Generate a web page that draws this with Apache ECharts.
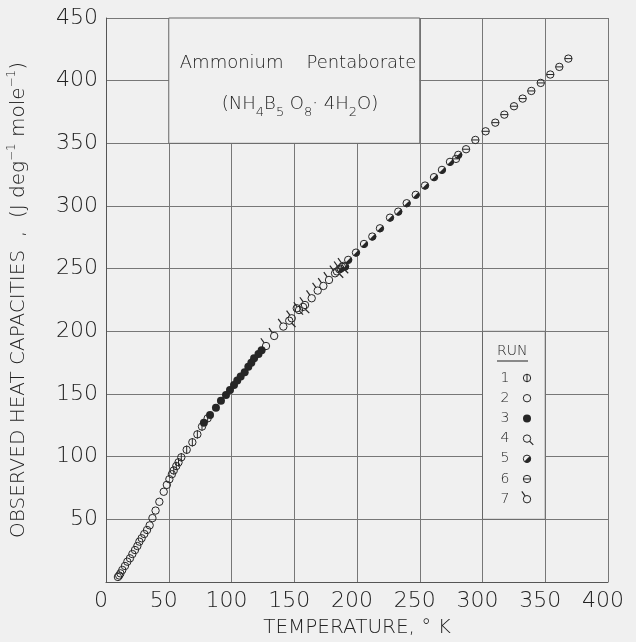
<!DOCTYPE html>
<html>
<head>
<meta charset="utf-8">
<script src="https://cdn.jsdelivr.net/npm/echarts@6/dist/echarts.min.js"></script>
<style>
html, body { margin: 0; padding: 0; background: #f0f0f0; }
#chart { width: 636px; height: 642px; }
</style>
</head>
<body>
<div id="chart"></div>
<script>
// [temperature K, heat capacity J/(deg mole)], one array per run
var run1 = [[54, 89], [56, 92.5], [57.8, 95.5], [60, 99.5], [64.3, 105.5], [68.8, 111.5], [72.8, 117.8], [76.5, 124], [81, 130.6]];
var run2 = [[9.5, 4], [10.5, 5.2], [11.5, 6.9], [13, 9.6], [15.1, 12.8], [17, 16.2], [19.1, 18.9], [21, 22.3],
    [23.1, 25.5], [25, 28.7], [26.6, 32.2], [28.4, 34.9], [30.5, 38.3], [32.7, 41.5], [34.8, 45.2], [37, 51],
    [39.5, 57], [42.5, 64], [46, 72], [48.5, 77.5], [50.5, 82], [52.5, 86]];
var run3 = [[78, 127], [82.9, 133.3], [87.6, 139.1], [91.6, 144.7], [95.6, 149.2], [98.8, 153.2], [102, 157.2],
    [104.6, 160.7], [107.3, 163.9], [110.5, 167.4], [113.4, 171.8], [115.8, 175], [118, 178.5], [121.5, 182], [124, 185]];
var run4 = [[146, 208.5], [152, 218.4], [157, 219.5], [184, 247.8], [188, 251.4]];
var run5 = [[187, 250], [190.5, 251.6], [193, 257], [199.2, 262.8], [205.6, 269.7], [212.2, 275.6], [218.3, 282.2],
    [226.3, 290.7], [232.9, 295.5], [239.6, 302.2], [246.8, 308.9], [254.2, 316.3], [261.4, 323], [267.7, 328.8],
    [274.1, 335.2], [280.7, 340.8]];
var run6 = [[278.9, 337.6], [286.9, 345.3], [294.3, 352.7], [302.5, 359.6], [310.2, 366.5], [317.4, 372.9],
    [325.1, 379.6], [332, 385.7], [338.9, 391.8], [346.4, 398.2], [354, 404.9], [361.2, 411], [368.4, 417.6]];
var run7 = [[127.5, 188.3], [134, 196.3], [141.3, 203.8], [148, 210.4], [153.8, 217], [158.6, 221], [163.9, 226.4],
    [168.7, 232.5], [173.2, 236.2], [177.7, 241], [182.5, 246.3], [185.9, 249.5], [189, 252.2]];

var runNames = ['1', '2', '3', '4', '5', '6', '7'];
var runs = [run1, run2, run3, run4, run5, run6, run7];

var ink = '#262626';
var fontFam = '"DejaVu Sans", sans-serif';

// builds the marker for one run at pixel x,y (used for data and for the key)
function markShapes(run, x, y, extra) {
    var r = 3.7;
    var kids = [];
    if (run === 3) {
        kids.push({ type: 'circle', shape: { cx: x, cy: y, r: r + 0.3 }, style: { fill: ink } });
    } else {
        kids.push({ type: 'circle', shape: { cx: x, cy: y, r: r }, style: { fill: 'none', stroke: ink, lineWidth: 1 } });
    }
    if (run === 1) {
        kids.push({ type: 'line', shape: { x1: x, y1: y - r - 0.5, x2: x, y2: y + r + 0.5 }, style: { stroke: ink, lineWidth: 1 } });
    } else if (run === 6) {
        kids.push({ type: 'line', shape: { x1: x - r, y1: y, x2: x + r, y2: y }, style: { stroke: ink, lineWidth: 1 } });
    } else if (run === 4) {
        kids.push({ type: 'line', shape: { x1: x + 0.7 * r, y1: y + 0.7 * r, x2: x + 1.7 * r, y2: y + 1.7 * r }, style: { stroke: ink, lineWidth: 1.2 } });
    } else if (run === 7) {
        kids.push({ type: 'line', shape: { x1: x - 0.5 * r, y1: y - 0.85 * r, x2: x - 1.4 * r, y2: y - 2.1 * r }, style: { stroke: ink, lineWidth: 1.2 } });
    } else if (run === 5) {
        kids.push({ type: 'sector', shape: { cx: x, cy: y, r0: 0, r: r, startAngle: -Math.PI / 4, endAngle: 3 * Math.PI / 4 }, style: { fill: ink } });
    }
    if (extra) {
        kids.forEach(function (el) { el.z = extra.z; });
    }
    return kids;
}

function makeRun(idx) {
    var run = idx + 1;
    return {
        name: 'Run ' + runNames[idx],
        type: 'custom',
        coordinateSystem: 'cartesian2d',
        data: runs[idx],
        encode: { x: 0, y: 1 },
        silent: true,
        z: 5,
        renderItem: function (params, api) {
            var p = api.coord([api.value(0), api.value(1)]);
            return { type: 'group', children: markShapes(run, p[0], p[1]) };
        }
    };
}

var series = [];
for (var i = 0; i < runs.length; i++) series.push(makeRun(i));

// blank boxes for the title and the key (they hide the grid lines)
series.push({
    type: 'scatter',
    data: [],
    silent: true,
    z: 3,
    markArea: {
        silent: true,
        itemStyle: { color: '#f0f0f0', borderColor: '#666', borderWidth: 1 },
        data: [
            [{ coord: [50, 350] }, { coord: [250, 450] }],
            [{ coord: [300, 50] }, { coord: [350, 200] }]
        ]
    }
});

var txtColor = '#222';
var light = 200;

// key
var keyItems = [
    { type: 'text', left: 497, top: 344, z: 20, style: { text: 'RUN', font: light + ' 14px ' + fontFam, fill: txtColor } },
    { type: 'line', z: 20, shape: { x1: 497, y1: 361, x2: 528, y2: 361 }, style: { stroke: txtColor, lineWidth: 1 } }
];
for (var k = 0; k < 7; k++) {
    var yy = 378 + k * 20.2;
    keyItems.push({ type: 'text', x: 505, y: yy, z: 20, style: { text: runNames[k], font: light + ' 14px ' + fontFam, fill: txtColor, align: 'center', verticalAlign: 'middle' } });
    keyItems = keyItems.concat(markShapes(k + 1, 527, yy, { z: 20 }));
}

var chart = echarts.init(document.getElementById('chart'));
chart.setOption({
    backgroundColor: '#f0f0f0',
    animation: false,
    grid: { left: 106, right: 28, top: 18, bottom: 60, outerBoundsMode: 'none' },
    xAxis: {
        type: 'value',
        min: 0,
        max: 400,
        interval: 50,
        name: 'TEMPERATURE, ° K',
        nameLocation: 'middle',
        nameGap: 36,
        nameTextStyle: { fontSize: 20, color: txtColor, fontFamily: fontFam, fontWeight: light },
        axisLine: { show: true, lineStyle: { color: '#555', width: 1 } },
        axisTick: { show: false },
        splitLine: { show: true, lineStyle: { color: '#777', width: 1 } },
        axisLabel: { fontSize: 22, color: txtColor, fontFamily: fontFam, fontWeight: light, margin: 8, padding: [0, 10, 0, 0] }
    },
    yAxis: {
        type: 'value',
        min: 0,
        max: 450,
        interval: 50,
        name: 'OBSERVED HEAT CAPACITIES  ,  (J deg{sup|−1} mole{sup|−1})',
        nameLocation: 'middle',
        nameGap: 74,
        nameTextStyle: {
            fontSize: 20, color: txtColor, fontFamily: fontFam, fontWeight: light, lineHeight: 26,
            rich: { sup: { fontSize: 12, fontFamily: fontFam, fontWeight: light, color: txtColor, verticalAlign: 'top', lineHeight: 26 } }
        },
        axisLine: { show: true, lineStyle: { color: '#555', width: 1 } },
        axisTick: { show: false },
        splitLine: { show: true, lineStyle: { color: '#777', width: 1 } },
        axisLabel: { fontSize: 22, color: txtColor, fontFamily: fontFam, fontWeight: light, margin: 8, showMinLabel: false }
    },
    graphic: [
        { type: 'text', x: 298, y: 63, z: 20, style: { text: 'Ammonium    Pentaborate', font: light + ' 18px ' + fontFam, fill: txtColor, align: 'center', verticalAlign: 'middle' } },
        {
            type: 'text', x: 300, y: 104, z: 20,
            style: {
                text: '(NH{s|4}B{s|5} O{s|8}· 4H{s|2}O)',
                font: light + ' 18px ' + fontFam, fill: txtColor, align: 'center', verticalAlign: 'middle', lineHeight: 30,
                rich: { s: { fontSize: 13, fontFamily: fontFam, fontWeight: light, fill: txtColor, verticalAlign: 'bottom', lineHeight: 30 } }
            }
        }
    ].concat(keyItems),
    series: series
});
</script>
</body>
</html>
